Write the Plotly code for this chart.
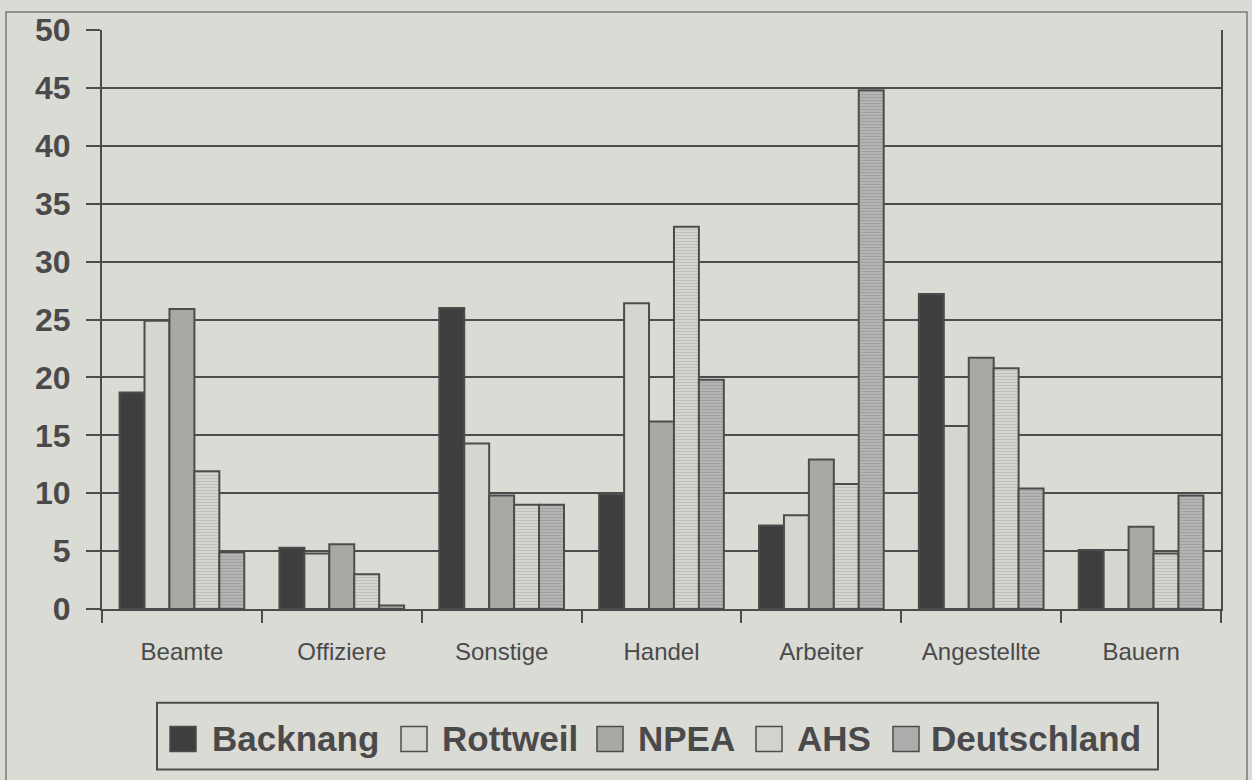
import plotly.graph_objects as go

categories = ["Beamte", "Offiziere", "Sonstige", "Handel", "Arbeiter", "Angestellte", "Bauern"]
series_names = ["Backnang", "Rottweil", "NPEA", "AHS", "Deutschland"]
backnang = [18.7, 5.3, 26.0, 9.9, 7.2, 27.2, 5.1]
rottweil = [24.9, 4.8, 14.3, 26.4, 8.1, 15.8, 5.1]
npea = [25.9, 5.6, 9.8, 16.2, 12.9, 21.7, 7.1]
ahs = [11.9, 3.0, 9.0, 33.0, 10.8, 20.8, 4.8]
deutschland = [4.9, 0.3, 9.0, 19.8, 44.8, 10.4, 9.8]
y_ticks = [0, 5, 10, 15, 20, 25, 30, 35, 40, 45, 50]

values = [backnang, rottweil, npea, ahs, deutschland]

BG = "#dbdbd6"
INK = "#4a4a4a"
LINE = "#4c4c4c"
FONT = "Liberation Sans, Arial, sans-serif"

styles = [
    dict(color="#3e3e3e", pattern=None),
    dict(color="#d5d5d1", pattern=None),
    dict(color="#a8a8a5", pattern=None),
    dict(color="#d2d2ce", pattern=dict(shape="-", fgcolor="#a9a9a6", bgcolor="#d4d4d0", size=3, solidity=0.35)),
    dict(color="#acacaa", pattern=dict(shape="-", fgcolor="#8e8e8c", bgcolor="#b4b4b2", size=3, solidity=0.35)),
]

fig = go.Figure()
for name, vals, st in zip(series_names, values, styles):
    marker = dict(color=st["color"], line=dict(color=LINE, width=2))
    if st["pattern"]:
        marker["pattern"] = st["pattern"]
    fig.add_trace(go.Bar(name=name, x=categories, y=vals, marker=marker, showlegend=False))

# plot area in pixels: x 102..1221, y 28..609
L, R, T, B = 102, 1221, 28, 609
W, H = 1252, 780

def px(x):
    return (x - L) / (R - L)

def py(y):
    return (B - y) / (B - T)

shapes = []
# outer border
shapes.append(dict(type="rect", xref="paper", yref="paper", x0=px(6), x1=px(1247), y0=py(10), y1=py(782),
                   line=dict(color="#7a7a7a", width=1.5), fillcolor="rgba(0,0,0,0)", layer="below"))
# legend box
shapes.append(dict(type="rect", xref="paper", yref="paper", x0=px(157), x1=px(1158), y0=py(703), y1=py(770),
                   line=dict(color=LINE, width=2), fillcolor="rgba(0,0,0,0)"))

sq_x = [170, 401, 597, 756, 893]
txt_x = [212, 442, 638, 797, 931]
annotations = []
for i, name in enumerate(series_names):
    shapes.append(dict(type="rect", xref="paper", yref="paper", x0=px(sq_x[i]), x1=px(sq_x[i] + 26),
                       y0=py(727), y1=py(752), line=dict(color=LINE, width=1.5),
                       fillcolor=styles[i]["color"]))
    annotations.append(dict(xref="paper", yref="paper", x=px(txt_x[i] - 2), y=py(739), text=name,
                            showarrow=False, xanchor="left", yanchor="middle",
                            font=dict(family=FONT, size=35, color=INK, weight="bold")))

fig.update_layout(
    width=W, height=H,
    margin=dict(l=L, r=W - R, t=T, b=H - B),
    paper_bgcolor=BG, plot_bgcolor=BG,
    barmode="group", bargap=0.22, bargroupgap=0,
    shapes=shapes, annotations=annotations,
    showlegend=False,
)
fig.update_xaxes(
    type="category", tickson="boundaries", ticks="outside", ticklen=12, tickwidth=2, tickcolor=LINE,
    showline=True, linecolor=LINE, linewidth=2, showgrid=False,
    tickfont=dict(family=FONT, size=24, color=INK), ticklabelstandoff=20,
)
fig.update_yaxes(
    range=[0, 50], tickvals=y_ticks, ticks="outside", ticklen=14, tickwidth=2, tickcolor=LINE,
    showline=True, linecolor=LINE, linewidth=2, mirror=True,
    showgrid=True, gridcolor=LINE, gridwidth=2, zeroline=False,
    tickfont=dict(family=FONT, size=32, color=INK, weight="bold"), ticklabelstandoff=9,
)

post = ("document.body.style.margin='0';document.body.style.padding='0';"
        "document.body.style.background='" + BG + "';"
        "document.documentElement.style.overflow='hidden';")
fig.write_html("out.html", post_script=post, config={"displayModeBar": False})
